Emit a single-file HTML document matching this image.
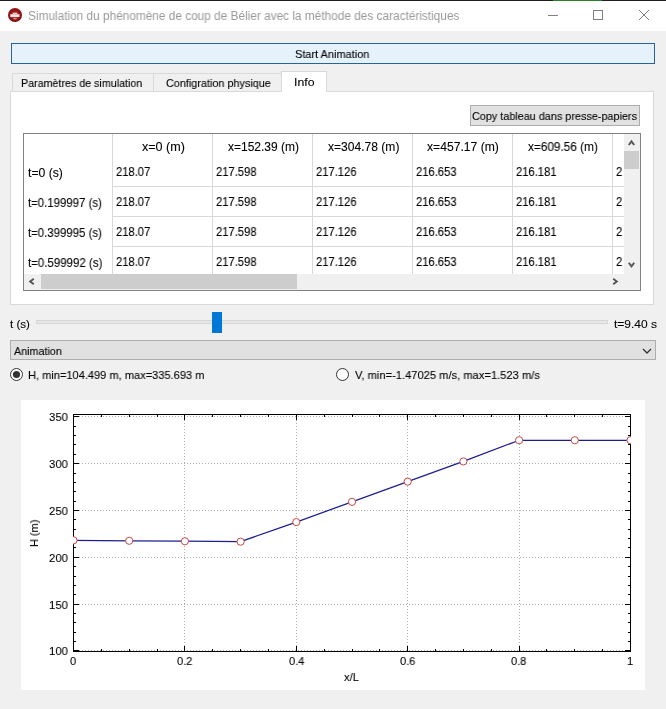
<!DOCTYPE html>
<html><head><meta charset="utf-8"><style>
html,body{margin:0;padding:0;}
body{width:666px;height:709px;position:relative;overflow:hidden;background:#f0f0f0;font-family:"Liberation Sans", sans-serif;font-size:12px;}
.t{position:absolute;white-space:pre;line-height:12px;transform-origin:0 0;will-change:transform;-webkit-text-stroke:0.1px currentColor;}
.b{position:absolute;box-sizing:border-box;}
</style></head><body>
<div class="b" style="left:0;top:0;width:666px;height:31px;background:#fff"></div>
<div class="b" style="left:11px;top:43px;width:644px;height:21px;background:#e5f1fb;border:1px solid #28649c"></div>
<div class="b" style="left:10px;top:91px;width:644px;height:214px;background:#fff;border:1px solid #d9d9d9"></div>
<div class="b" style="left:12px;top:73px;width:142px;height:18px;background:#f0f0f0;border:1px solid #d9d9d9;border-bottom:none"></div>
<div class="b" style="left:153px;top:73px;width:129px;height:18px;background:#f0f0f0;border:1px solid #d9d9d9;border-bottom:none"></div>
<div class="b" style="left:281px;top:71px;width:46px;height:21px;background:#fff;border:1px solid #d9d9d9;border-bottom:none"></div>
<div class="b" style="left:470px;top:105px;width:170px;height:21px;background:#e1e1e1;border:1px solid #adadad"></div>
<div style="position:absolute;left:23px;top:133px;width:616px;height:156px;border:1px solid #828282;background:#fff"></div>
<div style="position:absolute;left:112px;top:134px;width:1px;height:140px;background:#d8d8d8"></div>
<div style="position:absolute;left:212px;top:134px;width:1px;height:140px;background:#d8d8d8"></div>
<div style="position:absolute;left:312px;top:134px;width:1px;height:140px;background:#d8d8d8"></div>
<div style="position:absolute;left:412px;top:134px;width:1px;height:140px;background:#d8d8d8"></div>
<div style="position:absolute;left:512px;top:134px;width:1px;height:140px;background:#d8d8d8"></div>
<div style="position:absolute;left:612px;top:134px;width:1px;height:140px;background:#d8d8d8"></div>
<div style="position:absolute;left:112px;top:186px;width:512px;height:1px;background:#d8d8d8"></div>
<div style="position:absolute;left:112px;top:216px;width:512px;height:1px;background:#d8d8d8"></div>
<div style="position:absolute;left:112px;top:246px;width:512px;height:1px;background:#d8d8d8"></div>
<div style="position:absolute;left:624px;top:134px;width:16px;height:140px;background:#f0f0f0"></div>
<div style="position:absolute;left:624px;top:151px;width:15px;height:18px;background:#cdcdcd"></div>
<div style="position:absolute;left:24px;top:274px;width:616px;height:16px;background:#f0f0f0"></div>
<div style="position:absolute;left:41px;top:274px;width:256px;height:15px;background:#cdcdcd"></div>
<div class="b" style="left:36px;top:320px;width:572px;height:4px;background:#e7e7e7;border:1px solid #d6d6d6"></div>
<div class="b" style="left:212px;top:312px;width:10px;height:21px;background:#0078d7"></div>
<div class="b" style="left:10px;top:340px;width:646px;height:20px;background:#e1e1e1;border:1px solid #adadad"></div>
<div class="b" style="left:21px;top:400px;width:624px;height:290px;background:#fff"></div>
<svg width="666" height="709" style="position:absolute;left:0;top:0"><g stroke="#adadad" stroke-width="1" stroke-dasharray="1 2"><line x1="73" y1="416.5" x2="630" y2="416.5"/><line x1="73" y1="463.5" x2="630" y2="463.5"/><line x1="73" y1="510.5" x2="630" y2="510.5"/><line x1="73" y1="557.5" x2="630" y2="557.5"/><line x1="73" y1="604.5" x2="630" y2="604.5"/><line x1="73" y1="650.5" x2="630" y2="650.5"/><line x1="184.5" y1="414" x2="184.5" y2="651"/><line x1="296.5" y1="414" x2="296.5" y2="651"/><line x1="407.5" y1="414" x2="407.5" y2="651"/><line x1="519.5" y1="414" x2="519.5" y2="651"/></g><g stroke="#000" stroke-width="1"><line x1="73" y1="650.5" x2="79" y2="650.5"/><line x1="631" y1="650.5" x2="625" y2="650.5"/><line x1="73" y1="641.5" x2="76" y2="641.5"/><line x1="631" y1="641.5" x2="628" y2="641.5"/><line x1="73" y1="632.5" x2="76" y2="632.5"/><line x1="631" y1="632.5" x2="628" y2="632.5"/><line x1="73" y1="622.5" x2="76" y2="622.5"/><line x1="631" y1="622.5" x2="628" y2="622.5"/><line x1="73" y1="613.5" x2="76" y2="613.5"/><line x1="631" y1="613.5" x2="628" y2="613.5"/><line x1="73" y1="604.5" x2="79" y2="604.5"/><line x1="631" y1="604.5" x2="625" y2="604.5"/><line x1="73" y1="594.5" x2="76" y2="594.5"/><line x1="631" y1="594.5" x2="628" y2="594.5"/><line x1="73" y1="585.5" x2="76" y2="585.5"/><line x1="631" y1="585.5" x2="628" y2="585.5"/><line x1="73" y1="576.5" x2="76" y2="576.5"/><line x1="631" y1="576.5" x2="628" y2="576.5"/><line x1="73" y1="566.5" x2="76" y2="566.5"/><line x1="631" y1="566.5" x2="628" y2="566.5"/><line x1="73" y1="557.5" x2="79" y2="557.5"/><line x1="631" y1="557.5" x2="625" y2="557.5"/><line x1="73" y1="547.5" x2="76" y2="547.5"/><line x1="631" y1="547.5" x2="628" y2="547.5"/><line x1="73" y1="538.5" x2="76" y2="538.5"/><line x1="631" y1="538.5" x2="628" y2="538.5"/><line x1="73" y1="529.5" x2="76" y2="529.5"/><line x1="631" y1="529.5" x2="628" y2="529.5"/><line x1="73" y1="519.5" x2="76" y2="519.5"/><line x1="631" y1="519.5" x2="628" y2="519.5"/><line x1="73" y1="510.5" x2="79" y2="510.5"/><line x1="631" y1="510.5" x2="625" y2="510.5"/><line x1="73" y1="501.5" x2="76" y2="501.5"/><line x1="631" y1="501.5" x2="628" y2="501.5"/><line x1="73" y1="491.5" x2="76" y2="491.5"/><line x1="631" y1="491.5" x2="628" y2="491.5"/><line x1="73" y1="482.5" x2="76" y2="482.5"/><line x1="631" y1="482.5" x2="628" y2="482.5"/><line x1="73" y1="473.5" x2="76" y2="473.5"/><line x1="631" y1="473.5" x2="628" y2="473.5"/><line x1="73" y1="463.5" x2="79" y2="463.5"/><line x1="631" y1="463.5" x2="625" y2="463.5"/><line x1="73" y1="454.5" x2="76" y2="454.5"/><line x1="631" y1="454.5" x2="628" y2="454.5"/><line x1="73" y1="444.5" x2="76" y2="444.5"/><line x1="631" y1="444.5" x2="628" y2="444.5"/><line x1="73" y1="435.5" x2="76" y2="435.5"/><line x1="631" y1="435.5" x2="628" y2="435.5"/><line x1="73" y1="426.5" x2="76" y2="426.5"/><line x1="631" y1="426.5" x2="628" y2="426.5"/><line x1="73" y1="416.5" x2="79" y2="416.5"/><line x1="631" y1="416.5" x2="625" y2="416.5"/><line x1="73.5" y1="652" x2="73.5" y2="646"/><line x1="73.5" y1="414" x2="73.5" y2="420"/><line x1="101.5" y1="652" x2="101.5" y2="649"/><line x1="101.5" y1="414" x2="101.5" y2="417"/><line x1="129.5" y1="652" x2="129.5" y2="649"/><line x1="129.5" y1="414" x2="129.5" y2="417"/><line x1="157.5" y1="652" x2="157.5" y2="649"/><line x1="157.5" y1="414" x2="157.5" y2="417"/><line x1="184.5" y1="652" x2="184.5" y2="646"/><line x1="184.5" y1="414" x2="184.5" y2="420"/><line x1="212.5" y1="652" x2="212.5" y2="649"/><line x1="212.5" y1="414" x2="212.5" y2="417"/><line x1="240.5" y1="652" x2="240.5" y2="649"/><line x1="240.5" y1="414" x2="240.5" y2="417"/><line x1="268.5" y1="652" x2="268.5" y2="649"/><line x1="268.5" y1="414" x2="268.5" y2="417"/><line x1="296.5" y1="652" x2="296.5" y2="646"/><line x1="296.5" y1="414" x2="296.5" y2="420"/><line x1="324.5" y1="652" x2="324.5" y2="649"/><line x1="324.5" y1="414" x2="324.5" y2="417"/><line x1="352.5" y1="652" x2="352.5" y2="649"/><line x1="352.5" y1="414" x2="352.5" y2="417"/><line x1="379.5" y1="652" x2="379.5" y2="649"/><line x1="379.5" y1="414" x2="379.5" y2="417"/><line x1="407.5" y1="652" x2="407.5" y2="646"/><line x1="407.5" y1="414" x2="407.5" y2="420"/><line x1="435.5" y1="652" x2="435.5" y2="649"/><line x1="435.5" y1="414" x2="435.5" y2="417"/><line x1="463.5" y1="652" x2="463.5" y2="649"/><line x1="463.5" y1="414" x2="463.5" y2="417"/><line x1="491.5" y1="652" x2="491.5" y2="649"/><line x1="491.5" y1="414" x2="491.5" y2="417"/><line x1="519.5" y1="652" x2="519.5" y2="646"/><line x1="519.5" y1="414" x2="519.5" y2="420"/><line x1="546.5" y1="652" x2="546.5" y2="649"/><line x1="546.5" y1="414" x2="546.5" y2="417"/><line x1="574.5" y1="652" x2="574.5" y2="649"/><line x1="574.5" y1="414" x2="574.5" y2="417"/><line x1="602.5" y1="652" x2="602.5" y2="649"/><line x1="602.5" y1="414" x2="602.5" y2="417"/><line x1="630.5" y1="652" x2="630.5" y2="646"/><line x1="630.5" y1="414" x2="630.5" y2="420"/></g><rect x="73.5" y="414.5" width="557" height="237" fill="none" stroke="#000" stroke-width="1"/><clipPath id="cp"><rect x="73" y="414" width="558" height="238"/></clipPath><g clip-path="url(#cp)"><polyline fill="none" stroke="#1e1e90" stroke-width="1.25" points="73.50,540.34 129.20,540.78 184.90,541.22 240.60,541.66 296.30,522.06 352.00,501.84 407.70,481.62 463.40,461.40 519.10,440.25 574.80,440.25 630.50,440.25"/><circle cx="73.50" cy="540.34" r="3.6" fill="#fff" stroke="#c84848" stroke-width="1"/><circle cx="129.20" cy="540.78" r="3.6" fill="#fff" stroke="#c84848" stroke-width="1"/><circle cx="184.90" cy="541.22" r="3.6" fill="#fff" stroke="#c84848" stroke-width="1"/><circle cx="240.60" cy="541.66" r="3.6" fill="#fff" stroke="#c84848" stroke-width="1"/><circle cx="296.30" cy="522.06" r="3.6" fill="#fff" stroke="#c84848" stroke-width="1"/><circle cx="352.00" cy="501.84" r="3.6" fill="#fff" stroke="#c84848" stroke-width="1"/><circle cx="407.70" cy="481.62" r="3.6" fill="#fff" stroke="#c84848" stroke-width="1"/><circle cx="463.40" cy="461.40" r="3.6" fill="#fff" stroke="#c84848" stroke-width="1"/><circle cx="519.10" cy="440.25" r="3.6" fill="#fff" stroke="#c84848" stroke-width="1"/><circle cx="574.80" cy="440.25" r="3.6" fill="#fff" stroke="#c84848" stroke-width="1"/><circle cx="630.50" cy="440.25" r="3.6" fill="#fff" stroke="#c84848" stroke-width="1"/></g></svg>
<svg width="666" height="709" style="position:absolute;left:0;top:0"><path d="M628.8,145.0 L631.5,141.39999999999998 L634.2,145.0" fill="none" stroke="#555" stroke-width="1.9" stroke-linejoin="miter"/><path d="M628.8,262.7 L631.5,266.3 L634.2,262.7" fill="none" stroke="#555" stroke-width="1.9" stroke-linejoin="miter"/><path d="M33.8,278.8 L30.2,281.5 L33.8,284.2" fill="none" stroke="#555" stroke-width="1.9" stroke-linejoin="miter"/><path d="M613.2,278.8 L616.8,281.5 L613.2,284.2" fill="none" stroke="#555" stroke-width="1.9" stroke-linejoin="miter"/><path d="M643,349 L647,353 L651,349" fill="none" stroke="#333" stroke-width="1.3" stroke-linejoin="miter"/><line x1="548" y1="15.5" x2="558" y2="15.5" stroke="#808080" stroke-width="1"/><rect x="593.5" y="10.5" width="9" height="9" fill="none" stroke="#808080" stroke-width="1"/><path d="M639,10 L649,20 M649,10 L639,20" stroke="#808080" stroke-width="1"/><defs><radialGradient id="ig" cx="50%" cy="45%" r="55%"><stop offset="0" stop-color="#a51c1c"/><stop offset="0.75" stop-color="#921414"/><stop offset="1" stop-color="#6a0a0a"/></radialGradient></defs><circle cx="15" cy="15" r="7" fill="url(#ig)"/><rect x="10.3" y="14.2" width="9.2" height="2.9" fill="#f6e4e4"/><rect x="12.6" y="12.6" width="4.8" height="1.7" fill="#ecc8c8"/><rect x="13.4" y="17.9" width="3.2" height="1.4" fill="#d89a9a"/><circle cx="16.5" cy="374.5" r="6" fill="#fff" stroke="#333" stroke-width="1"/><circle cx="16.5" cy="374.5" r="3.6" fill="#333"/><circle cx="342.5" cy="374.5" r="6" fill="#fff" stroke="#333" stroke-width="1"/><rect x="0" y="0" width="666" height="1" fill="#1e1e1e"/><rect x="553" y="0" width="49" height="1" fill="#2d7d2d"/></svg>
<div class="t" style="left:28.06px;top:10.44px;color:#999999;transform:scaleX(0.9858);-webkit-text-stroke:0;">Simulation du phénomène de coup de Bélier avec la méthode des caractéristiques</div>
<div class="t" style="left:295.07px;top:47.61px;color:#000;font-size:11.5px;transform:scaleX(0.9533);">Start Animation</div>
<div class="t" style="left:21.08px;top:76.61px;color:#000;font-size:11.5px;transform:scaleX(0.9302);">Paramètres de simulation</div>
<div class="t" style="left:165.58px;top:76.61px;color:#000;font-size:11.5px;transform:scaleX(0.9422);">Configration physique</div>
<div class="t" style="left:294.02px;top:75.61px;color:#000;font-size:11.5px;transform:scaleX(1.0678);">Info</div>
<div class="t" style="left:472.08px;top:109.61px;color:#000;font-size:11.5px;transform:scaleX(0.9415);">Copy tableau dans presse-papiers</div>
<div class="t" style="left:141.53px;top:141.44px;color:#000;transform:scaleX(1.0474);">x=0 (m)</div>
<div class="t" style="left:227.55px;top:141.44px;color:#000;">x=152.39 (m)</div>
<div class="t" style="left:328.05px;top:141.44px;color:#000;transform:scaleX(1.0051);">x=304.78 (m)</div>
<div class="t" style="left:426.54px;top:141.44px;color:#000;transform:scaleX(1.0122);">x=457.17 (m)</div>
<div class="t" style="left:527.56px;top:141.44px;color:#000;transform:scaleX(0.9836);">x=609.56 (m)</div>
<div class="t" style="left:27.54px;top:167.44px;color:#000;transform:scaleX(1.0168);">t=0 (s)</div>
<div class="t" style="left:115.78px;top:166.44px;color:#000;transform:scaleX(0.9350);">218.07</div>
<div class="t" style="left:215.78px;top:166.44px;color:#000;transform:scaleX(0.9350);">217.598</div>
<div class="t" style="left:315.78px;top:166.44px;color:#000;transform:scaleX(0.9350);">217.126</div>
<div class="t" style="left:415.78px;top:166.44px;color:#000;transform:scaleX(0.9350);">216.653</div>
<div class="t" style="left:515.78px;top:166.44px;color:#000;transform:scaleX(0.9350);">216.181</div>
<div class="t" style="left:615.58px;top:166.44px;color:#000;transform:scaleX(0.9350);">2</div>
<div class="t" style="left:27.57px;top:197.44px;color:#000;transform:scaleX(0.9500);">t=0.199997 (s)</div>
<div class="t" style="left:115.78px;top:196.44px;color:#000;transform:scaleX(0.9350);">218.07</div>
<div class="t" style="left:215.78px;top:196.44px;color:#000;transform:scaleX(0.9350);">217.598</div>
<div class="t" style="left:315.78px;top:196.44px;color:#000;transform:scaleX(0.9350);">217.126</div>
<div class="t" style="left:415.78px;top:196.44px;color:#000;transform:scaleX(0.9350);">216.653</div>
<div class="t" style="left:515.78px;top:196.44px;color:#000;transform:scaleX(0.9350);">216.181</div>
<div class="t" style="left:615.58px;top:196.44px;color:#000;transform:scaleX(0.9350);">2</div>
<div class="t" style="left:27.57px;top:227.44px;color:#000;transform:scaleX(0.9500);">t=0.399995 (s)</div>
<div class="t" style="left:115.78px;top:226.44px;color:#000;transform:scaleX(0.9350);">218.07</div>
<div class="t" style="left:215.78px;top:226.44px;color:#000;transform:scaleX(0.9350);">217.598</div>
<div class="t" style="left:315.78px;top:226.44px;color:#000;transform:scaleX(0.9350);">217.126</div>
<div class="t" style="left:415.78px;top:226.44px;color:#000;transform:scaleX(0.9350);">216.653</div>
<div class="t" style="left:515.78px;top:226.44px;color:#000;transform:scaleX(0.9350);">216.181</div>
<div class="t" style="left:615.58px;top:226.44px;color:#000;transform:scaleX(0.9350);">2</div>
<div class="t" style="left:27.57px;top:257.44px;color:#000;transform:scaleX(0.9566);">t=0.599992 (s)</div>
<div class="t" style="left:115.78px;top:256.44px;color:#000;transform:scaleX(0.9350);">218.07</div>
<div class="t" style="left:215.78px;top:256.44px;color:#000;transform:scaleX(0.9350);">217.598</div>
<div class="t" style="left:315.78px;top:256.44px;color:#000;transform:scaleX(0.9350);">217.126</div>
<div class="t" style="left:415.78px;top:256.44px;color:#000;transform:scaleX(0.9350);">216.653</div>
<div class="t" style="left:515.78px;top:256.44px;color:#000;transform:scaleX(0.9350);">216.181</div>
<div class="t" style="left:615.58px;top:256.44px;color:#000;transform:scaleX(0.9350);">2</div>
<div class="t" style="left:9.55px;top:317.61px;color:#000;font-size:11.5px;transform:scaleX(1.0047);">t (s)</div>
<div class="t" style="left:613.53px;top:317.61px;color:#000;font-size:11.5px;transform:scaleX(1.0413);">t=9.40 s</div>
<div class="t" style="left:13.58px;top:344.61px;color:#000;font-size:11.5px;transform:scaleX(0.9350);">Animation</div>
<div class="t" style="left:28.07px;top:368.61px;color:#000;font-size:11.5px;transform:scaleX(0.9612);">H, min=104.499 m, max=335.693 m</div>
<div class="t" style="left:354.56px;top:368.61px;color:#000;font-size:11.5px;transform:scaleX(0.9694);">V, min=-1.47025 m/s, max=1.523 m/s</div>
<div class="t" style="left:49.16px;top:410.61px;color:#000;font-size:11.5px;transform:scaleX(0.9839);">350</div>
<div class="t" style="left:49.16px;top:457.61px;color:#000;font-size:11.5px;transform:scaleX(0.9839);">300</div>
<div class="t" style="left:49.16px;top:504.61px;color:#000;font-size:11.5px;transform:scaleX(0.9839);">250</div>
<div class="t" style="left:49.16px;top:551.61px;color:#000;font-size:11.5px;transform:scaleX(0.9839);">200</div>
<div class="t" style="left:49.16px;top:598.61px;color:#000;font-size:11.5px;transform:scaleX(0.9839);">150</div>
<div class="t" style="left:49.16px;top:644.61px;color:#000;font-size:11.5px;transform:scaleX(0.9839);">100</div>
<div class="t" style="left:70.42px;top:654.61px;color:#000;font-size:11.5px;transform:scaleX(0.9600);">0</div>
<div class="t" style="left:177.22px;top:654.61px;color:#000;font-size:11.5px;transform:scaleX(0.9600);">0.2</div>
<div class="t" style="left:288.62px;top:654.61px;color:#000;font-size:11.5px;transform:scaleX(0.9600);">0.4</div>
<div class="t" style="left:400.02px;top:654.61px;color:#000;font-size:11.5px;transform:scaleX(0.9600);">0.6</div>
<div class="t" style="left:511.42px;top:654.61px;color:#000;font-size:11.5px;transform:scaleX(0.9600);">0.8</div>
<div class="t" style="left:627.42px;top:654.61px;color:#000;font-size:11.5px;transform:scaleX(0.9600);">1</div>
<div class="t" style="left:343.56px;top:670.61px;color:#000;font-size:11.5px;transform:scaleX(0.9684);">x/L</div>
<div class="t" style="left:28.2px;top:546.95625px;font-size:11.5px;transform:rotate(-90deg) scaleX(0.95);transform-origin:0 0;">H (m)</div>
</body></html>
